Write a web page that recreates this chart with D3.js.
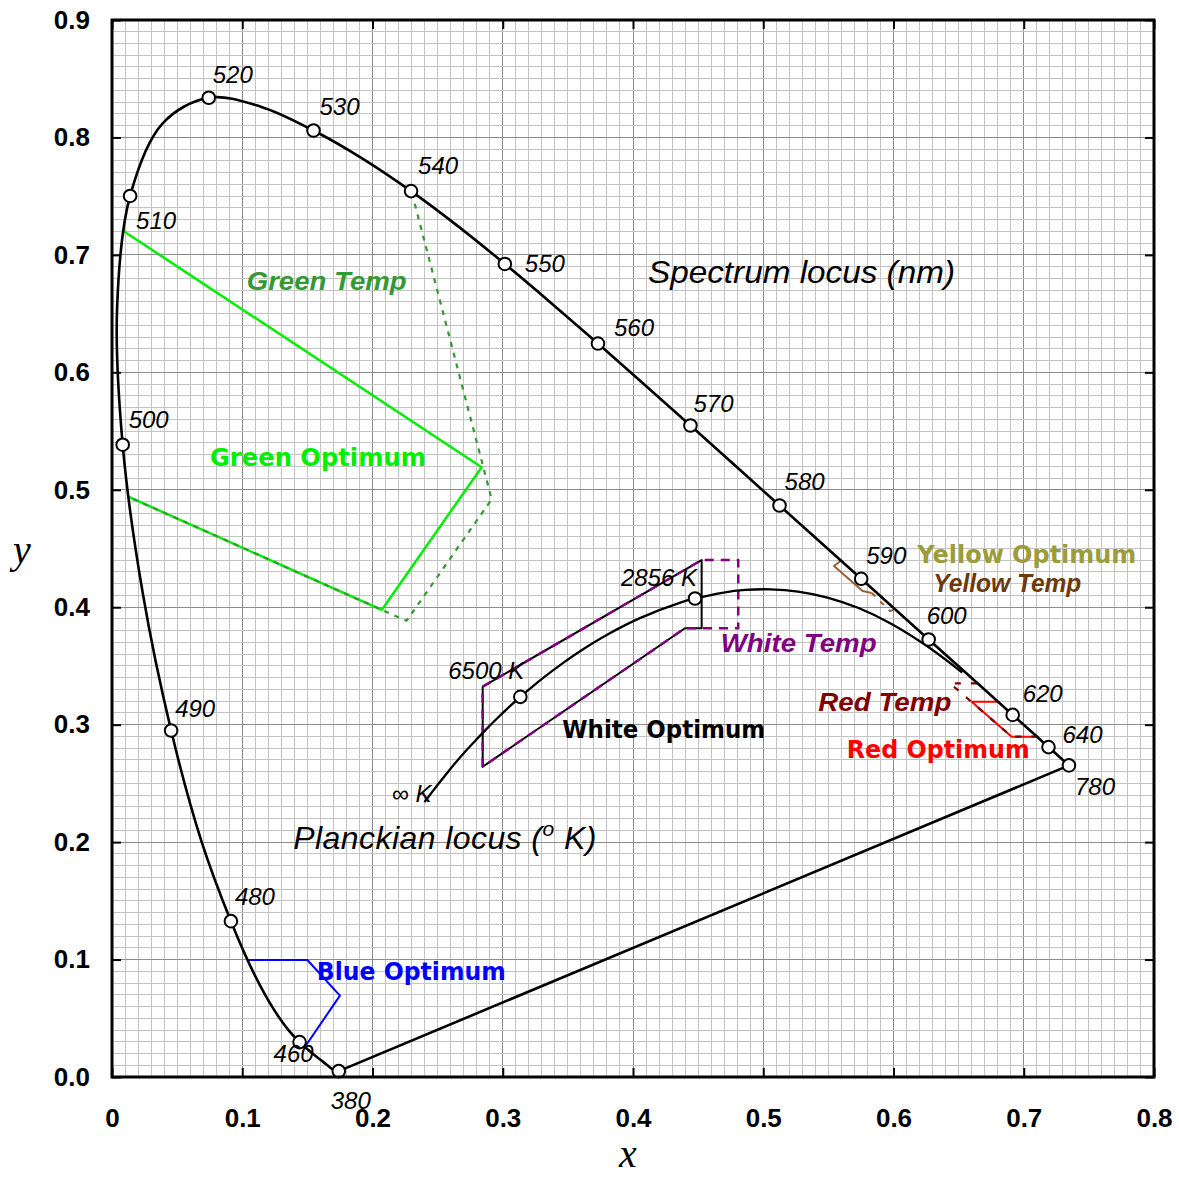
<!DOCTYPE html>
<html><head><meta charset="utf-8">
<script src="https://cdn.jsdelivr.net/npm/d3@7"></script>
<style>body{margin:0;background:#fff} svg{display:block}</style>
</head><body>
<script>
// ---- Data ----
const wavelengths = [380,385,390,395,400,405,410,415,420,425,430,435,440,445,450,455,460,465,470,475,480,485,490,495,500,505,510,515,520,525,530,535,540,545,550,555,560,565,570,575,580,585,590,595,600,605,610,615,620,625,630,635,640,645,650,700,780];
const locusX = [0.1741,0.1740,0.1738,0.1736,0.1733,0.1730,0.1726,0.1721,0.1714,0.1703,0.1689,0.1669,0.1644,0.1611,0.1566,0.1510,0.1440,0.1355,0.1241,0.1096,0.0913,0.0687,0.0454,0.0235,0.0082,0.0039,0.0139,0.0389,0.0743,0.1142,0.1547,0.1929,0.2296,0.2658,0.3016,0.3373,0.3731,0.4087,0.4441,0.4788,0.5125,0.5448,0.5752,0.6029,0.6270,0.6482,0.6658,0.6801,0.6915,0.7006,0.7079,0.7140,0.7190,0.7230,0.7260,0.7347,0.7347];
const locusY = [0.0050,0.0050,0.0049,0.0049,0.0048,0.0048,0.0048,0.0048,0.0051,0.0058,0.0069,0.0086,0.0109,0.0138,0.0177,0.0227,0.0297,0.0399,0.0578,0.0868,0.1327,0.2007,0.2950,0.4127,0.5384,0.6548,0.7502,0.8120,0.8338,0.8262,0.8059,0.7816,0.7543,0.7243,0.6923,0.6589,0.6245,0.5896,0.5547,0.5202,0.4866,0.4544,0.4242,0.3965,0.3725,0.3514,0.3340,0.3197,0.3083,0.2993,0.2920,0.2859,0.2809,0.2770,0.2740,0.2653,0.2653];
const markedWavelengths = [380,460,480,490,500,510,520,530,540,550,560,570,580,590,600,620,640,780];

const planckTemps = ["inf",100000,50000,30000,20000,15000,12000,10000,9000,8000,7000,6500,6000,5500,5000,4500,4000,3500,3000,2856,2600,2400,2200,2000,1800,1600,1400,1200,1000];
const planckX = [0.2399,0.2427,0.2457,0.2501,0.2565,0.2637,0.2719,0.2807,0.2869,0.2952,0.3064,0.3135,0.3221,0.3325,0.3451,0.3608,0.3805,0.4053,0.4369,0.4476,0.4685,0.4862,0.5056,0.5267,0.5493,0.5732,0.5985,0.6251,0.6528];
const planckY = [0.2341,0.2382,0.2426,0.2489,0.2577,0.2675,0.2780,0.2884,0.2956,0.3048,0.3166,0.3237,0.3318,0.3411,0.3516,0.3636,0.3768,0.3907,0.4041,0.4074,0.4123,0.4147,0.4152,0.4133,0.4082,0.3993,0.3858,0.3674,0.3444];
const planckMarked = [6500, 2856];

const xTicks = [0,0.1,0.2,0.3,0.4,0.5,0.6,0.7,0.8];
const xTickLabels = ["0","0.1","0.2","0.3","0.4","0.5","0.6","0.7","0.8"];
const yTicks = [0,0.1,0.2,0.3,0.4,0.5,0.6,0.7,0.8,0.9];
const yTickLabels = ["0.0","0.1","0.2","0.3","0.4","0.5","0.6","0.7","0.8","0.9"];

const greenOptX = [0.0087,0.2838,0.2071,0.0125];
const greenOptY = [0.7204,0.5192,0.3977,0.4941];
const greenTempX = [0.2303,0.2915,0.2262,0.2071,0.0125];
const greenTempY = [0.7526,0.4919,0.3885,0.3977,0.4941];
const whiteOptX = [0.2846,0.4527,0.4527,0.4399,0.2846,0.2846];
const whiteOptY = [0.3324,0.4402,0.3821,0.3821,0.2642,0.3324];
const whiteTempX = [0.2846,0.4527,0.4808,0.4808,0.4399,0.2846,0.2846];
const whiteTempY = [0.3324,0.4402,0.4402,0.3821,0.3821,0.2642,0.3324];
const yellowTempSolidX = [0.5602,0.5543,0.5763,0.5833];
const yellowTempSolidY = [0.4402,0.4351,0.4138,0.4121];
const yellowTempDashX = [0.5833,0.5973,0.6027];
const yellowTempDashY = [0.4121,0.3968,0.3985];
const redOptX = [0.6805,0.6600,0.6907,0.7112];
const redOptY = [0.3196,0.3196,0.2898,0.2898];
const redTempX = [0.6640,0.6434,0.6907,0.7104];
const redTempY = [0.3352,0.3352,0.2898,0.2898];
const blueOptX = [0.1043,0.1500,0.1750,0.1482];
const blueOptY = [0.0996,0.0996,0.0693,0.0258];

// ---- Layout ----
const W = 1179, H = 1177;
const x = d3.scaleLinear().domain([0,0.8]).range([112,1154]);
const y = d3.scaleLinear().domain([0,0.9]).range([1077,20]);
const svg = d3.select("body").append("svg").attr("width",W).attr("height",H);
const SANS = "'Liberation Sans', Arial, sans-serif";
const WIDE = "'DejaVu Sans', 'Liberation Sans', sans-serif";

// grid
const g = svg.append("g");
d3.range(0,81).forEach(i=>{
  g.append("line").attr("x1",x(i/100)).attr("x2",x(i/100)).attr("y1",y(0)).attr("y2",y(0.9))
   .attr("stroke", i%10===0 ? "#8c8c8c" : "#c4c4c4").attr("stroke-width",1).attr("shape-rendering","crispEdges");
});
d3.range(0,91).forEach(i=>{
  g.append("line").attr("y1",y(i/100)).attr("y2",y(i/100)).attr("x1",x(0)).attr("x2",x(0.8))
   .attr("stroke", i%10===0 ? "#8c8c8c" : "#c4c4c4").attr("stroke-width",1).attr("shape-rendering","crispEdges");
});

const line = d3.line().x(d=>x(d[0])).y(d=>y(d[1]));
const zip = (a,b)=>a.map((v,i)=>[v,b[i]]);

function path(xs, ys, color, width, dash){
  const p = svg.append("path").attr("d", line(zip(xs,ys))).attr("fill","none")
    .attr("stroke",color).attr("stroke-width",width).attr("stroke-linejoin","round");
  if (dash) p.attr("stroke-dasharray", dash);
  return p;
}

// region shapes
path(greenOptX, greenOptY, "#00ee00", 2.5);
path(greenTempX, greenTempY, "#339933", 2.2, "5,6");
path(whiteOptX, whiteOptY, "#000", 2);
path(whiteTempX, whiteTempY, "#800080", 2.5, "9,7");
path(yellowTempSolidX, yellowTempSolidY, "#9a6030", 2);
path(yellowTempDashX, yellowTempDashY, "#9a6030", 2, "5,7");
path(redOptX, redOptY, "#ff0000", 2);
path(redTempX, redTempY, "#800000", 2.2, "6,10");
path(blueOptX, blueOptY, "#0000ff", 2);

// spectrum locus: smooth curve through the wavelengths, closed with a straight purple line
const locusPts = zip(locusX, locusY).filter((p,i,a)=> i===0 || p[0]!==a[i-1][0] || p[1]!==a[i-1][1]);
const smooth = d3.line().x(d=>x(d[0])).y(d=>y(d[1])).curve(d3.curveCatmullRom.alpha(0.5));
svg.append("path").attr("d", smooth(locusPts) + "Z").attr("fill","none")
  .attr("stroke","#000").attr("stroke-width",2.6).attr("stroke-linejoin","round");

// planckian locus
svg.append("path").attr("d", smooth(zip(planckX, planckY)))
  .attr("fill","none").attr("stroke","#000").attr("stroke-width",2.3);

// markers
const locusMarks = markedWavelengths.map(w=>{const i=wavelengths.indexOf(w); return {w, x:locusX[i], y:locusY[i]};});
svg.selectAll("circle.lm").data(locusMarks).enter().append("circle")
  .attr("cx",d=>x(d.x)).attr("cy",d=>y(d.y)).attr("r",6.3)
  .attr("fill","#fff").attr("stroke","#000").attr("stroke-width",2);
const planckMarks = planckMarked.map(t=>{const i=planckTemps.indexOf(t); return {t, x:planckX[i], y:planckY[i]};});
svg.selectAll("circle.pm").data(planckMarks).enter().append("circle")
  .attr("cx",d=>x(d.x)).attr("cy",d=>y(d.y)).attr("r",6.3)
  .attr("fill","#fff").attr("stroke","#000").attr("stroke-width",2);

// wavelength labels (pixel offsets from markers)
const wlOffsets = {380:[-8,38],460:[-26,20],480:[4,-16],490:[4,-14],500:[6,-17],510:[6,33],520:[4,-15],530:[6,-16],540:[7,-17],550:[20,8],560:[16,-8],570:[3,-14],580:[5,-16],590:[5,-15],600:[-2,-16],620:[10,-13],640:[14,-4],780:[6,30]};
svg.selectAll("text.wl").data(locusMarks).enter().append("text")
  .attr("x",d=>x(d.x)+wlOffsets[d.w][0]).attr("y",d=>y(d.y)+wlOffsets[d.w][1])
  .attr("font-family",SANS).attr("font-style","italic").attr("font-size",24).attr("fill","#000")
  .text(d=>d.w);

// planck labels
const pl = [
  {t:"inf", txt:"\u221E K", dx:7, dy:0},
  {t:6500, txt:"6500 K", dx:4, dy:-18},
  {t:2856, txt:"2856 K", dx:2, dy:-13}
];
pl.forEach(p=>{
  const i = planckTemps.indexOf(p.t);
  svg.append("text").attr("x",x(planckX[i])+p.dx).attr("y",y(planckY[i])+p.dy)
    .attr("text-anchor","end").attr("font-family",SANS).attr("font-style","italic").attr("font-size",24)
    .text(p.txt);
});

// annotations (data coordinates of text start / baseline)
const notes = [
  {t:"Spectrum locus (nm)", x:0.4115, y:0.6761, c:"#000", f:SANS, w:"normal", s:"italic", size:32, len:307},
  {t:"Green Temp", x:0.1034, y:0.6701, c:"#339933", f:SANS, w:"bold", s:"italic", size:25, len:160},
  {t:"Green Optimum", x:0.0752, y:0.5203, c:"#00ee00", f:WIDE, w:"bold", s:"normal", size:25, len:216},
  {t:"White Optimum", x:0.3457, y:0.2887, c:"#000", f:WIDE, w:"bold", s:"normal", size:25, len:203},
  {t:"White Temp", x:0.4673, y:0.3621, c:"#800080", f:SANS, w:"bold", s:"italic", size:25, len:156},
  {t:"Yellow Optimum", x:0.6183, y:0.4379, c:"#9c9c3a", f:WIDE, w:"bold", s:"normal", size:25, len:219},
  {t:"Yellow Temp", x:0.6306, y:0.4132, c:"#6b3a08", f:SANS, w:"bold", s:"italic", size:25, len:148},
  {t:"Red Temp", x:0.5423, y:0.3117, c:"#800000", f:SANS, w:"bold", s:"italic", size:25, len:133},
  {t:"Red Optimum", x:0.5641, y:0.2717, c:"#ff0000", f:WIDE, w:"bold", s:"normal", size:25, len:183},
  {t:"Blue Optimum", x:0.1572, y:0.0826, c:"#0000ff", f:WIDE, w:"bold", s:"normal", size:25, len:189}
];
notes.forEach(n=>{
  svg.append("text").attr("x",x(n.x)).attr("y",y(n.y)).attr("fill",n.c)
    .attr("font-family",n.f).attr("font-weight",n.w).attr("font-style",n.s).attr("font-size",n.size)
    .attr("textLength",n.len).attr("lengthAdjust","spacingAndGlyphs").text(n.t);
});
// Planckian locus label with superscript
const pt = svg.append("text").attr("x",x(0.1392)).attr("y",y(0.1939))
  .attr("font-family",SANS).attr("font-style","italic").attr("font-size",32).attr("fill","#000")
  .attr("textLength",303).attr("lengthAdjust","spacing");
pt.append("tspan").text("Planckian locus (");
pt.append("tspan").attr("dy",-13).attr("font-size",21).text("o");
pt.append("tspan").attr("dy",13).text(" K)");

// axes: ticks inward on all sides
const tickStyle = sel => { sel.select(".domain").remove(); sel.selectAll(".tick line").attr("stroke","#000").attr("stroke-width",2); };
svg.append("g").attr("transform",`translate(0,${y(0)})`)
  .call(d3.axisBottom(x).tickValues(xTicks).tickSize(-9).tickPadding(32).tickFormat((d,i)=>xTickLabels[i]))
  .call(tickStyle)
  .call(s=>s.selectAll("text").attr("font-family",SANS).attr("font-weight","bold").attr("font-size",26).attr("fill","#000"));
svg.append("g").attr("transform",`translate(${x(0)},0)`)
  .call(d3.axisLeft(y).tickValues(yTicks).tickSize(-9).tickPadding(22).tickFormat((d,i)=>yTickLabels[i]))
  .call(tickStyle)
  .call(s=>s.selectAll("text").attr("font-family",SANS).attr("font-weight","bold").attr("font-size",26).attr("fill","#000"));
svg.append("g").attr("transform",`translate(0,${y(0.9)})`)
  .call(d3.axisTop(x).tickValues(xTicks).tickSize(-9).tickFormat(""))
  .call(tickStyle);
svg.append("g").attr("transform",`translate(${x(0.8)},0)`)
  .call(d3.axisRight(y).tickValues(yTicks).tickSize(-9).tickFormat(""))
  .call(tickStyle);

// frame
svg.append("rect").attr("x",x(0)).attr("y",y(0.9)).attr("width",x(0.8)-x(0)).attr("height",y(0)-y(0.9))
  .attr("fill","none").attr("stroke","#000").attr("stroke-width",3);

// axis titles
svg.append("text").attr("x",628).attr("y",1167).attr("text-anchor","middle")
  .attr("font-family","'Liberation Serif','Times New Roman',serif").attr("font-style","italic").attr("font-size",40).text("x");
svg.append("text").attr("x",22).attr("y",563).attr("text-anchor","middle")
  .attr("font-family","'Liberation Serif','Times New Roman',serif").attr("font-style","italic").attr("font-size",40).text("y");
</script>
</body></html>
